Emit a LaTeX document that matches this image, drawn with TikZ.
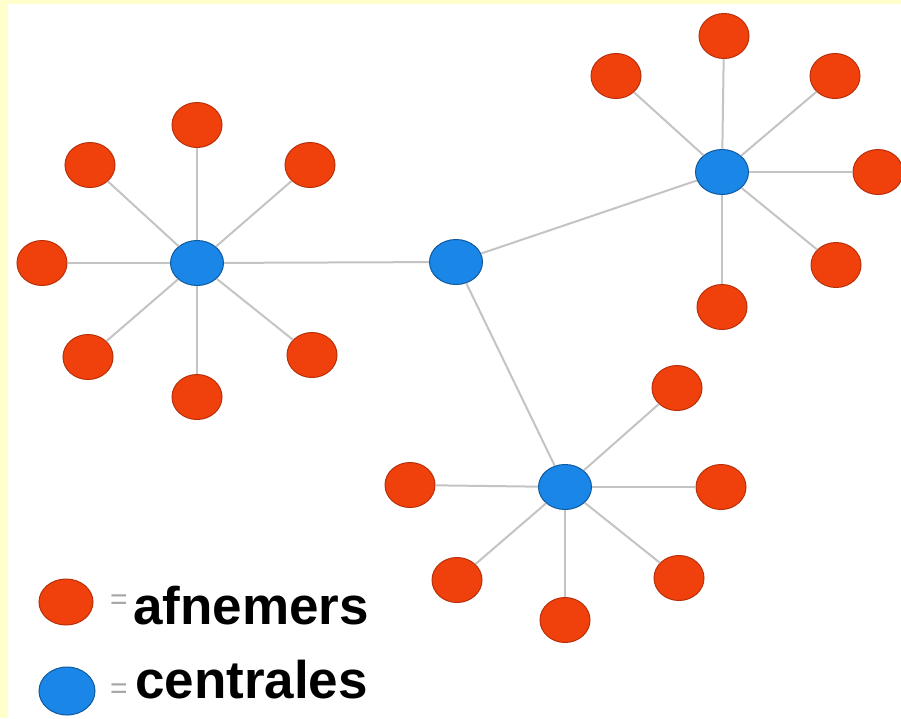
\documentclass[tikz,border=0pt]{standalone}
\usepackage{fontspec}
\setmainfont{Liberation Sans}
\usetikzlibrary{shapes.geometric}
\definecolor{bgyellow}{HTML}{FFFFCC}
\definecolor{leaffill}{HTML}{F0400C}
\definecolor{leafdraw}{HTML}{B8300A}
\definecolor{hubfill}{HTML}{1A86E8}
\definecolor{hubdraw}{HTML}{0F5A9E}
\definecolor{edgegrey}{HTML}{C4C4C4}
\tikzset{
  leaf/.style={ellipse, fill=leaffill, draw=leafdraw, line width=1pt, minimum width=50pt, minimum height=45pt, inner sep=0pt},
  hub/.style={ellipse, fill=hubfill, draw=hubdraw, line width=1pt, minimum width=53pt, minimum height=45pt, inner sep=0pt},
  link/.style={draw=edgegrey, line width=2pt},
  legtext/.style={anchor=west, font=\fontsize{53}{53}\selectfont\bfseries, text=black, inner sep=0pt},
  eqtext/.style={anchor=west, font=\fontsize{30}{30}\selectfont, text=gray!70, inner sep=0pt}
}
\begin{document}
\begin{tikzpicture}[x=1pt,y=-1pt]
\fill[bgyellow] (0,0) rectangle (901,718);
\fill[white] (8,4) rectangle (901,718);
\useasboundingbox (0,0) rectangle (901,718);
% hubs
\node[hub] (A) at (197,263) {};
\node[hub] (M) at (456,262) {};
\node[hub] (B) at (722,172) {};
\node[hub] (C) at (565,487) {};
% leaves of A
\node[leaf] (a1) at (197,125) {};
\node[leaf] (a2) at (90,165) {};
\node[leaf] (a3) at (310,165) {};
\node[leaf] (a4) at (42,263) {};
\node[leaf] (a5) at (88,357) {};
\node[leaf] (a6) at (312,355) {};
\node[leaf] (a7) at (197,397) {};
% leaves of B
\node[leaf] (b1) at (724,36) {};
\node[leaf] (b2) at (616,76) {};
\node[leaf] (b3) at (835,76) {};
\node[leaf] (b4) at (878,172) {};
\node[leaf] (b5) at (836,265) {};
\node[leaf] (b6) at (722,307) {};
% leaves of C
\node[leaf] (c1) at (677,388) {};
\node[leaf] (c2) at (410,485) {};
\node[leaf] (c3) at (721,487) {};
\node[leaf] (c4) at (457,580) {};
\node[leaf] (c5) at (679,578) {};
\node[leaf] (c6) at (565,620) {};
% edges
\foreach \l in {a1,a2,a3,a4,a5,a6,a7} {\path[link] (A) -- (\l);}
\foreach \l in {b1,b2,b3,b4,b5,b6} {\path[link] (B) -- (\l);}
\foreach \l in {c1,c2,c3,c4,c5,c6} {\path[link] (C) -- (\l);}
\path[link] (A) -- (M);
\path[link] (M) -- (B);
\path[link] (M) -- (C);
% legend
\node[leaf, minimum width=54pt, minimum height=46pt] (lo) at (66,602) {};
\node[hub, minimum width=56pt, minimum height=48pt] (lb) at (67,691) {};
\node[eqtext] (eq1) at (110,602) {=};
\node[eqtext] (eq2) at (110,691) {=};
\node[legtext] (t1) at (133,606) {afnemers};
\node[legtext] (t2) at (135,680) {centrales};
\end{tikzpicture}
\end{document}
